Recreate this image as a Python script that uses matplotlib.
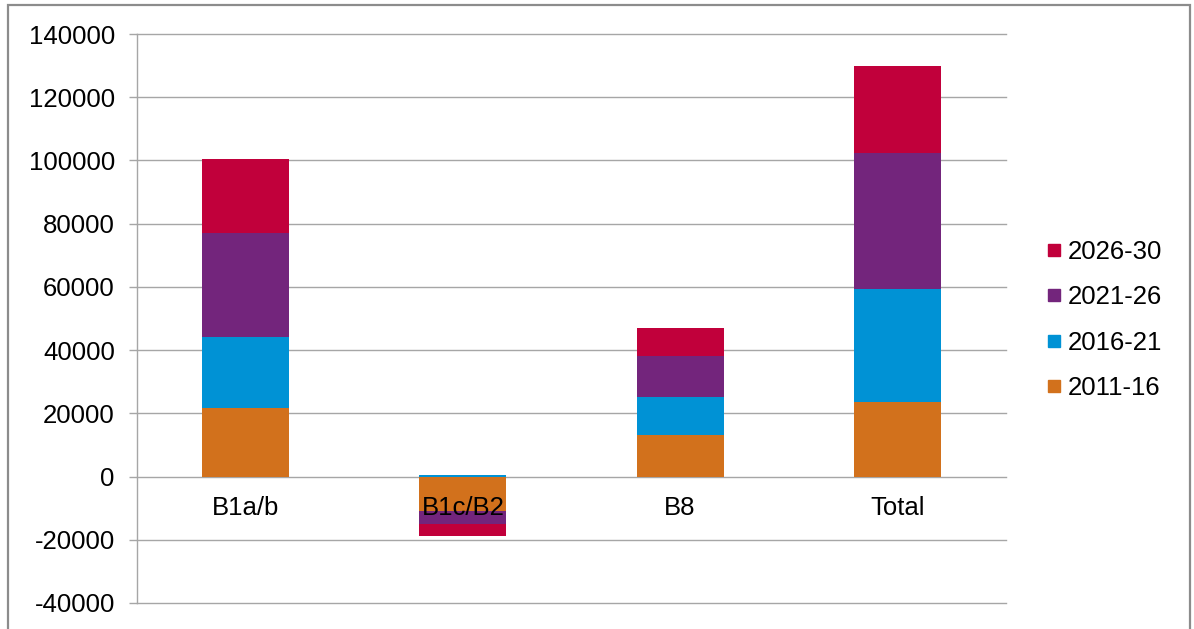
import matplotlib
matplotlib.use("Agg")
import matplotlib.pyplot as plt
from matplotlib.lines import Line2D
import numpy as np

plt.rcParams['font.family'] = ['Liberation Sans', 'DejaVu Sans']

categories = ["B1a/b", "B1c/B2", "B8", "Total"]
periods = ["2011-16", "2016-21", "2021-26", "2026-30"]
v_2011_16 = [21700, -11000, 13000, 23500]
v_2016_21 = [22500, 400, 12200, 35900]
v_2021_26 = [32900, -3900, 12900, 42800]
v_2026_30 = [23500, -3800, 8900, 27800]
colors = ["#D2711C", "#0092D5", "#73257C", "#C1003B"]
y_ticks = [-40000, -20000, 0, 20000, 40000, 60000, 80000, 100000, 120000, 140000]

series = [v_2011_16, v_2016_21, v_2021_26, v_2026_30]
FS = 18.5

fig = plt.figure(figsize=(11.94, 6.29), dpi=100)
ax = fig.add_axes([137 / 1194, 1 - 603 / 629, (1006 - 137) / 1194, (603 - 34) / 629])

x = np.arange(len(categories))
pos_base = np.zeros(len(categories))
neg_base = np.zeros(len(categories))
for vals, col in zip(series, colors):
    vals = np.array(vals, dtype=float)
    bottoms = np.where(vals >= 0, pos_base, neg_base)
    ax.bar(x, vals, width=0.4, bottom=bottoms, color=col, zorder=3)
    pos_base += np.where(vals >= 0, vals, 0)
    neg_base += np.where(vals < 0, vals, 0)

ax.set_xlim(-0.5, len(categories) - 0.5)
ax.set_ylim(-40000, 140000)
ax.set_yticks(y_ticks)
ax.set_yticklabels([str(t) for t in y_ticks], fontsize=FS)
ax.yaxis.grid(True, color="#A6A6A6", linewidth=1.0, zorder=0)
for gl in ax.get_ygridlines():
    gl.set_clip_on(False)
ax.set_axisbelow(True)

for s in ["top", "right", "bottom"]:
    ax.spines[s].set_visible(False)
ax.spines["left"].set_color("#A6A6A6")
ax.spines["left"].set_linewidth(1.0)
ax.tick_params(axis="y", length=6, width=1.0, color="#A6A6A6", pad=10)
ax.set_xticks([])

# category labels sit just below the zero line
for xi, name in zip(x, categories):
    ax.text(xi, -6200, name, ha="center", va="top", fontsize=FS)

handles = [Line2D([], [], marker="s", linestyle="none", markersize=8,
                  markerfacecolor=c, markeredgecolor=c) for c in colors]
leg = fig.legend(handles[::-1], periods[::-1], loc="center left",
                 bbox_to_anchor=(1036 / 1194, 1 - 320 / 629), frameon=False,
                 fontsize=FS, handlelength=0.6, handletextpad=0.25,
                 labelspacing=0.84, borderaxespad=0)

# outer chart frame
frame = plt.Rectangle((8 / 1194, -0.05), (1190 - 8) / 1194, 1.05 - 5 / 629,
                      transform=fig.transFigure, fill=False,
                      edgecolor="#8C8C8C", linewidth=1.6)
fig.add_artist(frame)

fig.savefig("out.png", dpi=100)
